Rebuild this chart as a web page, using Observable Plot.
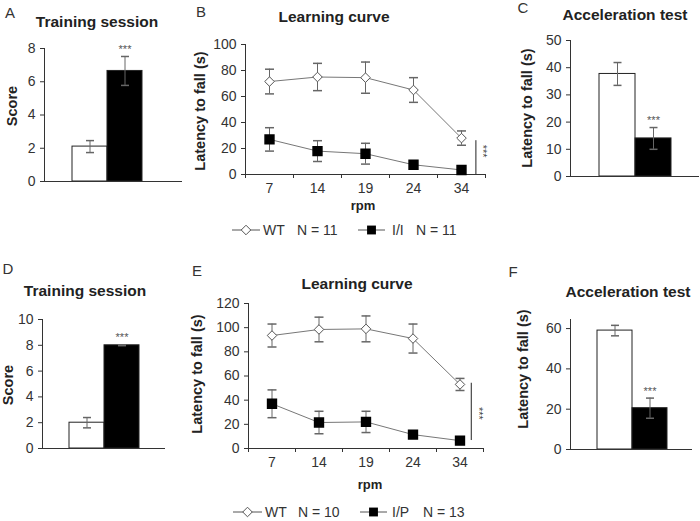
<!DOCTYPE html>
<html>
<head>
<meta charset="utf-8">
<script src="https://cdn.jsdelivr.net/npm/d3@7"></script>
<script src="https://cdn.jsdelivr.net/npm/@observablehq/plot@0.6"></script>
<style>
body { margin: 0; background: #fff; }
#fig { position: relative; width: 700px; height: 521px; overflow: hidden; font-family: "Liberation Sans", Arial, sans-serif; color: #222; }
.t { position: absolute; white-space: nowrap; line-height: 1; transform: translate(-50%, -50%); }
.letter { font-size: 15px; color: #333; }
.title { font-size: 15.5px; font-weight: bold; }
.ylab { font-size: 14.5px; font-weight: bold; transform: translate(-50%, -50%) rotate(-90deg); }
.xlab { font-size: 13px; font-weight: bold; }
.leg { position: absolute; white-space: nowrap; line-height: 1; font-size: 14px; color: #333; transform: translateY(-50%); }
.legicon { position: absolute; overflow: visible; }
</style>
</head>
<body>
<div id="fig"></div>
<script>
// valores (media y error estandar)
const groupsTop = ['WT', 'I/I']
const groupsBottom = ['WT', 'I/P']

const scoreA = [2.1, 6.65]
const scoreAErr = [0.36, 0.87]
const accelC = [37.7, 14]
const accelCErr = [4.2, 4]
const scoreD = [2, 8]
const scoreDErr = [0.4, 0.03]
const accelF = [59, 20.5]
const accelFErr = [2.6, 5]

const rpm = [7, 14, 19, 24, 34]
const wtB = [71.5, 75, 74.5, 65, 28]
const wtBErr = [9.5, 10.5, 12, 9.5, 5.5]
const iiB = [27, 18, 16, 7.5, 3.5]
const iiBErr = [9, 8, 8, 1, 0.5]
const wtE = [93.5, 98.5, 99, 91, 53]
const wtEErr = [9.5, 10.2, 10.7, 12, 5]
const ipE = [37, 21.5, 22, 11.5, 6.5]
const ipEErr = [11.5, 9.3, 8.8, 3, 0.5]

// barra de significancia (***) al costado de las curvas
const sigB = {x: 4.3, y1: 0, y2: 26, ys: 18}
const sigE = {x: 4.24, y1: 6.6, y2: 54, ys: 29}

const W = 700, H = 521
const fig = d3.select('#fig')

// cada grafico ocupa toda la pagina, el marco se define con los margenes
function frame(l, t, r, b) {
	return {width: W, height: H, marginLeft: l, marginTop: t, marginRight: W - r, marginBottom: H - b}
}

const baseStyle = {
	position: 'absolute', left: '0px', top: '0px', background: 'transparent',
	fontFamily: '"Liberation Sans", Arial, sans-serif', fontSize: '14px', color: '#333', overflow: 'visible',
}

// simbolo para los topes de las barras de error
const cap = {
	draw(context, size) {
		const w = Math.sqrt(size / Math.PI)
		context.moveTo(-w, 0)
		context.lineTo(w, 0)
	}
}

function yAxis(ymax, ticks) {
	return {domain: [0, ymax], ticks: ticks, line: true, tickSize: 4, tickPadding: 5, label: null}
}

function barPanel({l, t, r, b, band, groups, values, errs, ymax, ticks}) {
	const rows = groups.map((g, i) => ({group: g, value: values[i], err: errs[i]}))
	return Plot.plot({
		...frame(l, t, r, b),
		style: baseStyle,
		x: {type: 'band', domain: groups, range: band, padding: 0, axis: null},
		y: yAxis(ymax, ticks),
		color: {domain: groups, range: ['white', 'black']},
		marks: [
			Plot.barY(rows, {x: 'group', y: 'value', fill: 'group', stroke: '#222', strokeWidth: 1}),
			Plot.ruleX(rows, {x: 'group', y1: d => d.value - d.err, y2: d => d.value + d.err, stroke: '#666'}),
			Plot.dot(rows, {x: 'group', y: d => d.value + d.err, symbol: cap, r: 4, stroke: '#666', fill: 'none'}),
			Plot.dot(rows, {x: 'group', y: d => d.value - d.err, symbol: cap, r: 4, stroke: '#666', fill: 'none'}),
			Plot.ruleY([0], {stroke: '#333'}),
			Plot.text(rows.slice(1), {x: 'group', y: d => d.value + d.err, text: () => '***', dy: -7, fontSize: 11, fill: '#555'}),
		],
	})
}

function linePanel({l, t, r, b, ymax, ticks, wt, wtErr, mut, mutErr, sig}) {
	const rows = rpm.flatMap((v, i) => [
		{i: i, group: 'WT', value: wt[i], err: wtErr[i]},
		{i: i, group: 'mut', value: mut[i], err: mutErr[i]},
	])
	const wtRows = rows.filter(d => d.group === 'WT')
	const mutRows = rows.filter(d => d.group === 'mut')
	return Plot.plot({
		...frame(l, t, r, b),
		style: baseStyle,
		x: {domain: [-0.5, rpm.length - 0.5]},
		y: yAxis(ymax, ticks),
		marks: [
			Plot.ruleY([0], {stroke: '#333'}),
			Plot.axisX(d3.range(rpm.length), {tickSize: 0, tickPadding: 9, tickFormat: i => rpm[i]}),
			Plot.axisX(d3.range(rpm.length + 1).map(i => i - 0.5), {tickSize: 4, tickFormat: () => ''}),
			Plot.line(rows, {x: 'i', y: 'value', z: 'group', stroke: '#777', strokeWidth: 1}),
			Plot.ruleX(rows, {x: 'i', y1: d => d.value - d.err, y2: d => d.value + d.err, stroke: '#666'}),
			Plot.dot(rows, {x: 'i', y: d => d.value + d.err, symbol: cap, r: 4.5, stroke: '#666', fill: 'none'}),
			Plot.dot(rows, {x: 'i', y: d => d.value - d.err, symbol: cap, r: 4.5, stroke: '#666', fill: 'none'}),
			Plot.dot(wtRows, {x: 'i', y: 'value', symbol: 'diamond2', r: 4.3, fill: 'white', stroke: '#555', strokeWidth: 1}),
			Plot.dot(mutRows, {x: 'i', y: 'value', symbol: 'square', r: 5, fill: 'black', stroke: 'black'}),
			Plot.ruleX([sig], {x: 'x', y1: 'y1', y2: 'y2', stroke: '#222'}),
			Plot.text([sig], {x: 'x', y: 'ys', text: () => '***', rotate: 90, dx: 7, fontSize: 11, fill: '#444'}),
		],
	})
}

const charts = [
	barPanel({l: 44, t: 48, r: 182, b: 181, band: [72, 142], groups: groupsTop, values: scoreA, errs: scoreAErr, ymax: 8, ticks: [0, 2, 4, 6, 8]}),
	linePanel({l: 245, t: 44, r: 485, b: 174, ymax: 100, ticks: [0, 20, 40, 60, 80, 100], wt: wtB, wtErr: wtBErr, mut: iiB, mutErr: iiBErr, sig: sigB}),
	barPanel({l: 570, t: 40, r: 699, b: 176, band: [598, 671], groups: groupsTop, values: accelC, errs: accelCErr, ymax: 50, ticks: [0, 10, 20, 30, 40, 50]}),
	barPanel({l: 42, t: 319, r: 165, b: 448, band: [68, 139], groups: groupsBottom, values: scoreD, errs: scoreDErr, ymax: 10, ticks: [0, 2, 4, 6, 8, 10]}),
	linePanel({l: 248, t: 303, r: 483, b: 448, ymax: 120, ticks: [0, 20, 40, 60, 80, 100, 120], wt: wtE, wtErr: wtEErr, mut: ipE, mutErr: ipEErr, sig: sigE}),
	barPanel({l: 570, t: 319, r: 692, b: 449, band: [597, 667], groups: groupsBottom, values: accelF, errs: accelFErr, ymax: 64.5, ticks: [0, 20, 40, 60]}),
]
charts.forEach(c => fig.append(() => c))

// textos: letras, titulos y etiquetas de ejes
const labels = [
	['A', 10, 12, 'letter'], ['B', 201, 11, 'letter'], ['C', 523, 7, 'letter'],
	['D', 8, 268, 'letter'], ['E', 197, 270, 'letter'], ['F', 513, 271, 'letter'],
	['Training session', 97, 22, 'title'], ['Learning curve', 334, 17, 'title'], ['Acceleration test', 625, 15, 'title'],
	['Training session', 85, 291, 'title'], ['Learning curve', 357, 284, 'title'], ['Acceleration test', 628, 292, 'title'],
	['Score', 12, 106, 'ylab'], ['Latency to fall (s)', 200, 111, 'ylab'], ['Latency to fall (s)', 527, 108, 'ylab'],
	['Score', 8, 385, 'ylab'], ['Latency to fall (s)', 197, 374, 'ylab'], ['Latency to fall (s)', 523, 369, 'ylab'],
	['rpm', 363, 205, 'xlab'], ['rpm', 370, 484, 'xlab'],
]
labels.forEach(([text, x, y, cls]) => {
	fig.append('div').attr('class', 't ' + cls).style('left', x + 'px').style('top', y + 'px').text(text)
})

// leyendas
function legend(y, items) {
	items.forEach(it => {
		const svg = fig.append('svg').attr('class', 'legicon')
			.attr('width', it.x1 - it.x0).attr('height', 14)
			.style('left', it.x0 + 'px').style('top', (y - 7) + 'px')
		const w = it.x1 - it.x0
		svg.append('line').attr('x1', 0).attr('x2', w).attr('y1', 7).attr('y2', 7).attr('stroke', '#555')
		if (it.marker === 'diamond') {
			svg.append('path').attr('d', d3.symbol(d3.symbolDiamond2, Math.PI * 4.3 * 4.3)())
				.attr('transform', `translate(${w / 2},7)`).attr('fill', 'white').attr('stroke', '#555')
		} else {
			svg.append('path').attr('d', d3.symbol(d3.symbolSquare, Math.PI * 25)())
				.attr('transform', `translate(${w / 2},7)`).attr('fill', 'black')
		}
		fig.append('div').attr('class', 'leg').style('left', it.name + 'px').style('top', y + 'px').text(it.label)
		fig.append('div').attr('class', 'leg').style('left', it.nx + 'px').style('top', y + 'px').text(it.n)
	})
}
legend(230, [
	{x0: 232, x1: 260, marker: 'diamond', name: 263, label: 'WT', nx: 297, n: 'N = 11'},
	{x0: 358, x1: 385, marker: 'square', name: 392, label: 'I/I', nx: 416, n: 'N = 11'},
])
legend(512, [
	{x0: 233, x1: 262, marker: 'diamond', name: 265, label: 'WT', nx: 298, n: 'N = 10'},
	{x0: 360, x1: 387, marker: 'square', name: 392, label: 'I/P', nx: 423, n: 'N = 13'},
])
</script>
</body>
</html>
